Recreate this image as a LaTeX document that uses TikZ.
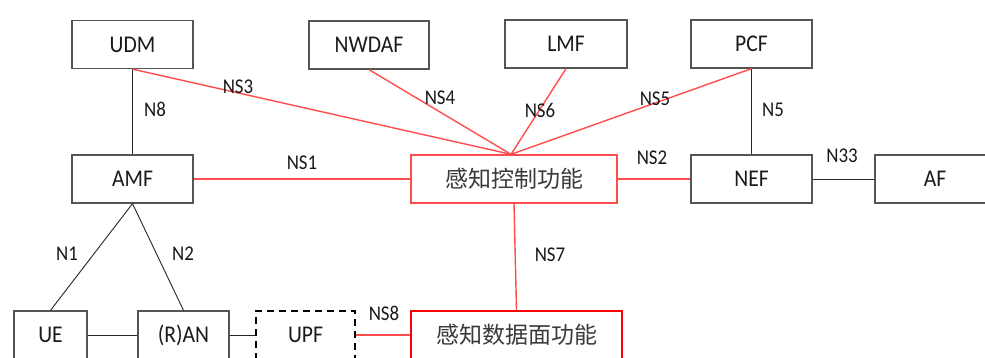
\documentclass[tikz,border=0pt]{standalone}
\usepackage{fontspec}
\setmainfont{Carlito}
\newfontfamily\narrowfont[FakeStretch=0.9]{Carlito}
\newfontfamily\cjk{Noto Sans CJK SC}
\definecolor{boxgray}{HTML}{555555}
\definecolor{linered}{HTML}{FF4D4D}
\definecolor{txt}{HTML}{1A1A1A}
\definecolor{cjktxt}{HTML}{3A3A3A}
\begin{document}
\begin{tikzpicture}[x=1pt,y=-1pt,
  nf/.style={draw=boxgray,line width=1.3pt,minimum height=48pt,inner sep=0pt,font=\narrowfont\fontsize{24}{26}\selectfont,text=txt},
  redbox/.style={draw=linered,line width=1.3pt,minimum height=48pt,inner sep=0pt,font=\cjk\fontsize{23}{25}\selectfont,text=cjktxt},
  dbox/.style={draw=red,line width=2.4pt,minimum height=48pt,inner sep=0pt,font=\cjk\fontsize{23}{25}\selectfont,text=cjktxt},
  upfbox/.style={draw=black,line width=1.5pt,dash pattern=on 7pt off 5pt,minimum height=48pt,inner sep=0pt,font=\narrowfont\fontsize{24}{26}\selectfont,text=txt},
  bl/.style={draw=black!85,line width=0.9pt},
  rl/.style={draw=linered,line width=1.4pt},
  lbl/.style={font=\narrowfont\fontsize{21}{23}\selectfont,text=txt,inner sep=0pt}]
\useasboundingbox (0,0) rectangle (985,358);
\clip (0,0) rectangle (985,358);
\fill[white] (0,0) rectangle (985,358);
% nodes
\node[nf,minimum width=121pt] (udm) at (132.5,44.5) {UDM};
\node[nf,minimum width=120pt] (nwdaf) at (369,45) {NWDAF};
\node[nf,minimum width=122pt] (lmf) at (566,44) {LMF};
\node[nf,minimum width=121pt] (pcf) at (751.5,44) {PCF};
\node[nf,minimum width=121pt] (amf) at (132.5,179) {AMF};
\node[redbox,minimum width=206pt] (scf) at (514,179) {感知控制功能};
\node[nf,minimum width=121pt] (nef) at (751.5,179) {NEF};
\node[nf,minimum width=120pt] (af) at (935,179) {AF};
\node[nf,minimum width=73pt] (ue) at (50.5,335) {UE};
\node[nf,minimum width=91pt] (ran) at (183.5,335) {(R)AN};
\node[upfbox,minimum width=99pt] (upf) at (305.5,335) {UPF};
\node[dbox,minimum width=211pt] (sdf) at (516.5,335) {感知数据面功能};
% connectors
\draw[bl] (udm.south) -- (amf.north);
\draw[bl] (pcf.south) -- (nef.north);
\draw[bl] (nef.east) -- (af.west);
\draw[bl] (amf.south) -- (ue.north);
\draw[bl] (amf.south) -- (ran.north);
\draw[bl] (ue.east) -- (ran.west);
\draw[bl] (ran.east) -- (upf.west);
\coordinate (hub) at ([xshift=-3pt]scf.north);
\draw[rl] (udm.south) -- (hub);
\draw[rl] (nwdaf.south) -- (hub);
\draw[rl] (lmf.south) -- (hub);
\draw[rl] (pcf.south) -- (hub);
\draw[rl] (amf.east) -- (scf.west);
\draw[rl] (scf.east) -- (nef.west);
\draw[rl] (scf.south) -- (sdf.north);
\draw[rl] (upf.east) -- (sdf.west);
% labels
\node[lbl] (l8) at (155,109) {N8};
\node[lbl] (l3) at (238,87) {NS3};
\node[lbl] (l4) at (440,98) {NS4};
\node[lbl] (l6) at (540,110) {NS6};
\node[lbl] (l5) at (655,99) {NS5};
\node[lbl] (ln5) at (773,110) {N5};
\node[lbl] (l1) at (302,163) {NS1};
\node[lbl] (l2) at (652,158) {NS2};
\node[lbl] (l33) at (842,156) {N33};
\node[lbl] (ln1) at (67,254) {N1};
\node[lbl] (ln2) at (183,254) {N2};
\node[lbl] (l7) at (550,255) {NS7};
\node[lbl] (ls8) at (384,313) {NS8};
\end{tikzpicture}
\end{document}
